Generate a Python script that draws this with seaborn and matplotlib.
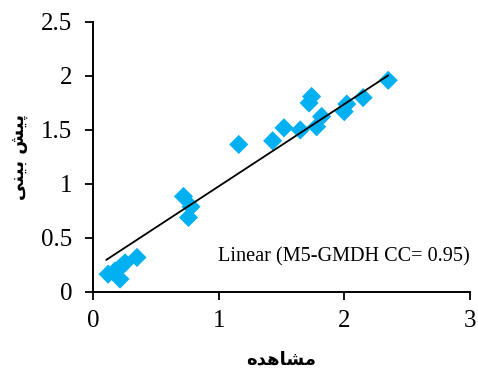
import numpy as np
import pandas as pd
import matplotlib
matplotlib.use("Agg")
import matplotlib.pyplot as plt
import seaborn as sns

# Observed vs predicted values (M5-GMDH)
observed = [0.12, 0.175, 0.215, 0.215, 0.255, 0.35, 0.72, 0.78, 0.76,
            1.16, 1.43, 1.52, 1.65, 1.74, 1.72, 1.78, 1.82, 2.00, 2.02, 2.15, 2.35]
predicted = [0.165, 0.195, 0.12, 0.226, 0.27, 0.32, 0.885, 0.79, 0.69,
             1.366, 1.40, 1.52, 1.50, 1.81, 1.75, 1.53, 1.625, 1.67, 1.74, 1.80, 1.96]

# Linear trendline coefficients
trend_slope = 0.761
trend_intercept = 0.217

x_ticks = [0, 1, 2, 3]
y_ticks = [0, 0.5, 1, 1.5, 2, 2.5]
x_tick_labels = ["0", "1", "2", "3"]
y_tick_labels = ["0", "0.5", "1", "1.5", "2", "2.5"]

# Persian labels in presentation forms (visual order)
x_label = "\uFEE9\uFEAA\uFEEB\uFE8E\uFEB8\uFEE3"           # مشاهده
y_label = "\uFBFD\uFEE8\uFBFF\uFE91 \uFEB6\uFBFF\uFB58"    # پیش بینی
legend_text = "Linear (M5-GMDH CC= 0.95)"

df = pd.DataFrame({"observed": observed, "predicted": predicted})
trend_x = np.array([0.105, max(observed)])
trend = pd.DataFrame({"observed": trend_x,
                      "predicted": trend_slope * trend_x + trend_intercept})

sns.set_theme(style="ticks")
plt.rcParams["font.family"] = ["Liberation Serif", "DejaVu Serif"]

fig = plt.figure(figsize=(4.78, 3.69), dpi=100)
ax = fig.add_axes([0.1946, 0.2087, 0.7884, 0.7317])

sns.scatterplot(data=df, x="observed", y="predicted", ax=ax, marker="D",
                color="#00B0F0", s=95, edgecolor="none", zorder=2)
sns.lineplot(data=trend, x="observed", y="predicted", ax=ax,
             color="black", lw=1.3, zorder=3)

ax.set_xlim(0, 3)
ax.set_ylim(0, 2.5)
ax.set_xticks(x_ticks)
ax.set_xticklabels(x_tick_labels)
ax.set_yticks(y_ticks)
ax.set_yticklabels(y_tick_labels)
ax.tick_params(axis="both", direction="out", length=6, width=1.3,
               labelsize=18, colors="black")
ax.tick_params(axis="y", pad=9)
ax.tick_params(axis="x", pad=7)
for s in ["top", "right"]:
    ax.spines[s].set_visible(False)
for s in ["left", "bottom"]:
    ax.spines[s].set_color("black")
    ax.spines[s].set_linewidth(1.4)

ax.set_xlabel(x_label, fontsize=13, fontweight="bold", color="black",
              family=["DejaVu Sans"])
ax.set_ylabel(y_label, fontsize=13, fontweight="bold", color="black",
              family=["DejaVu Sans"])
ax.xaxis.set_label_coords(0.5, -0.215)
ax.yaxis.set_label_coords(-0.172, 0.5)

ax.text(0.999, 0.13, legend_text, transform=ax.transAxes, ha="right", va="center",
        fontsize=14.6, color="black")

fig.savefig("out.png", dpi=100)
